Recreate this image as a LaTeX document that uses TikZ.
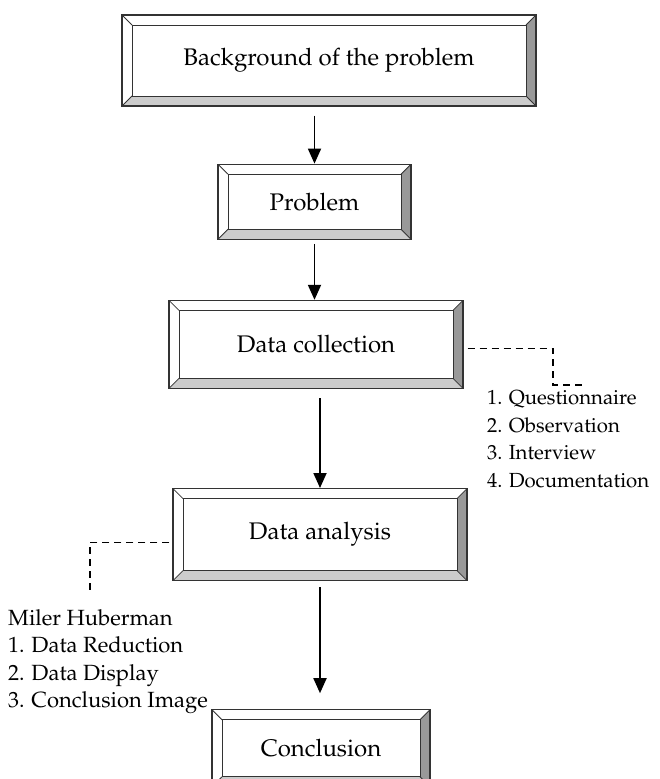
\documentclass[tikz,border=0pt]{standalone}
\usepackage[T1]{fontenc}
\usepackage{mathpazo}
\usetikzlibrary{arrows.meta, positioning}

\definecolor{bevdark}{HTML}{999999}
\definecolor{bevlight}{HTML}{CCCCCC}

\begin{document}
\begin{tikzpicture}[x=1pt, y=1pt,
every node/.append style = {inner sep=0pt},
 stufe/.style 2 args = {rectangle, draw=black!80, line width=1.2pt,
                 minimum width=#1, minimum height=#2,
                 font=\fontsize{24}{28}\selectfont,
                 path picture={
                   \coordinate (nw) at (path picture bounding box.north west);
                   \coordinate (ne) at (path picture bounding box.north east);
                   \coordinate (sw) at (path picture bounding box.south west);
                   \coordinate (se) at (path picture bounding box.south east);
                   \fill[bevdark] (ne) -- (se) -- ([shift={(-10pt,10pt)}]se)
                                  -- ([shift={(-10pt,-10pt)}]ne) -- cycle;
                   \fill[bevlight] (sw) -- (se) -- ([shift={(-10pt,10pt)}]se)
                                  -- ([shift={(10pt,10pt)}]sw) -- cycle;
                   \draw[line width=1pt] ([shift={(10pt,-10pt)}]nw)
                                  rectangle ([shift={(-10pt,10pt)}]se);
                   \draw[line width=0.8pt] (nw) -- ++(10pt,-10pt)
                                  (ne) -- ++(-10pt,-10pt)
                                  (sw) -- ++(10pt,10pt)
                                  (se) -- ++(-10pt,10pt);
                 }},
 pfeil/.style = {line width=1.8pt, -{Triangle[length=15pt,width=13pt]}},
 strich/.style = {line width=1.7pt, dash pattern=on 7pt off 5pt},
 liste/.style = {align=left, anchor=north west,
                 font=\fontsize{#1}{27.5}\selectfont},
 liste/.default = 22
                    ]
\useasboundingbox (0,0) rectangle (659,-779);
%nodes
\node (background) [stufe={414pt}{91pt}] at (329,-60.5) {Background of the problem};
\node (problem)    [stufe={193pt}{75pt},
                    below=57pt of background, xshift=-14.5pt] {Problem};
\node (collection) [stufe={294pt}{88pt},
                    below=60pt of problem, xshift=1.5pt]      {Data collection};
\node (analysis)   [stufe={294pt}{92pt},
                    below=99pt of collection, xshift=4pt]     {Data analysis};
\node (conclusion) [stufe={218pt}{77pt},
                    below=128pt of analysis, xshift=1pt]      {Conclusion};
%
\node (collist)    [liste=20.4] at (487,-390.5)
      {1. Questionnaire\\2. Observation\\3. Interview\\4. Documentation};
\node (analist)    [liste] at (8,-609)
      {Miler Huberman\\1. Data Reduction\\2. Data Display\\3. Conclusion Image};
\coordinate (colend) at (583,-385);
\coordinate (anaend) at (90,-592);
% edges
\draw[pfeil, shorten <=9pt]  (background.south -| problem.north) -- (problem.north);
\draw[pfeil, shorten <=4pt]  (problem.south) -- (collection.north -| problem.south);
\draw[pfeil, shorten <=9pt]  (collection.south -| analysis.north) -- (analysis.north);
\draw[pfeil, shorten <=6pt, shorten >=16pt]
                             (analysis.south) -- (conclusion.north -| analysis.south);
%
\draw[strich] ([xshift=4pt,yshift=-4pt]collection.east) -| ([xshift=-30pt]colend)
              -- (colend);
\draw[strich] ([xshift=-3pt,yshift=-8pt]analysis.west) -| (anaend);
\end{tikzpicture}
\end{document}
